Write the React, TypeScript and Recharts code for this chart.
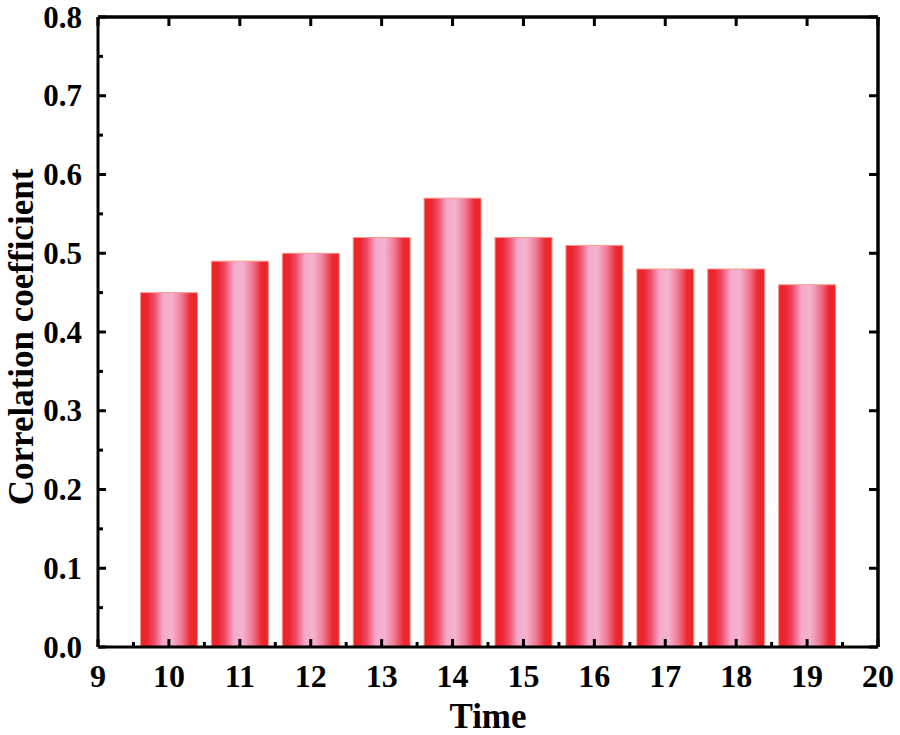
import React from "react";
import {
  Bar,
  BarChart,
  Label,
  ReferenceLine,
  XAxis,
  YAxis
} from "recharts";

const times: number[] = [10, 11, 12, 13, 14, 15, 16, 17, 18, 19];
const coefficients: number[] = [0.45, 0.49, 0.5, 0.52, 0.57, 0.52, 0.51, 0.48, 0.48, 0.46];

const xTicks: number[] = [9, 9.5, 10, 10.5, 11, 11.5, 12, 12.5, 13, 13.5, 14, 14.5, 15, 15.5, 16, 16.5, 17, 17.5, 18, 18.5, 19, 19.5, 20];
const xMajorTicks: number[] = [9, 10, 11, 12, 13, 14, 15, 16, 17, 18, 19, 20];
const yTicks: number[] = [0, 0.05, 0.1, 0.15, 0.2, 0.25, 0.3, 0.35, 0.4, 0.45, 0.5, 0.55, 0.6, 0.65, 0.7, 0.75, 0.8];
const yMajorTicks: number[] = [0, 0.1, 0.2, 0.3, 0.4, 0.5, 0.6, 0.7, 0.8];

const data = times.map((t, i) => ({ time: t, value: coefficients[i] }));

const FONT = "'Liberation Serif', 'Times New Roman', serif";

const isMajor = (v: number, step: number) => Math.abs(v / step - Math.round(v / step)) < 1e-6;

const BottomTick = (props: any) => {
  const { x, y, payload } = props;
  const major = isMajor(payload.value, 1);
  return (
    <g>
      <line x1={x} y1={y} x2={x} y2={y - (major ? 8 : 5)} stroke="#000" strokeWidth={3} />
      {major && (
        <text x={x} y={y + 40} textAnchor="middle" fontFamily={FONT} fontWeight="bold" fontSize={32} fill="#000">
          {payload.value}
        </text>
      )}
    </g>
  );
};

const LeftTick = (props: any) => {
  const { x, y, payload } = props;
  const major = isMajor(payload.value, 0.1);
  return (
    <g>
      <line x1={x} y1={y} x2={x + (major ? 8 : 5)} y2={y} stroke="#000" strokeWidth={3} />
      {major && (
        <text x={x - 16} y={y} dy="0.34em" textAnchor="end" fontFamily={FONT} fontWeight="bold" fontSize={31} fill="#000">
          {payload.value.toFixed(1)}
        </text>
      )}
    </g>
  );
};

const TopTick = (props: any) => {
  const { x, y } = props;
  return <line x1={x} y1={y} x2={x} y2={y + 9} stroke="#000" strokeWidth={3} />;
};

const RightTick = (props: any) => {
  const { x, y } = props;
  return <line x1={x} y1={y} x2={x - 9} y2={y} stroke="#000" strokeWidth={3} />;
};

const App: React.FC = () => {
  return (
    <div style={{ position: "absolute", left: 0, top: 0, width: 900, height: 735, background: "#fff" }}>
      <BarChart
        width={900}
        height={735}
        data={data}
        margin={{ top: 16, right: 21, left: 38, bottom: 28 }}
      >
        <defs>
          <linearGradient id="barGrad" x1="0" y1="0" x2="1" y2="0">
            <stop offset="0%" stopColor="#EE2326" />
            <stop offset="12%" stopColor="#EC2530" />
            <stop offset="24%" stopColor="#EE4A68" />
            <stop offset="40%" stopColor="#F4AACB" />
            <stop offset="55%" stopColor="#F5B3CF" />
            <stop offset="72%" stopColor="#F07A96" />
            <stop offset="88%" stopColor="#EC2832" />
            <stop offset="100%" stopColor="#EE2326" />
          </linearGradient>
        </defs>
        <XAxis
          dataKey="time"
          type="number"
          domain={[9, 20]}
          ticks={xTicks}
          interval={0}
          allowDataOverflow
          height={60}
          axisLine={{ stroke: "#000", strokeWidth: 3 }}
          tickLine={false}
          tickSize={0}
          tickMargin={0}
          tick={<BottomTick />}
        >
          <Label
            content={({ viewBox }: any) => (
              <text
                x={viewBox.x + viewBox.width / 2}
                y={728}
                textAnchor="middle"
                fontFamily={FONT}
                fontWeight="bold"
                fontSize={35}
                fill="#000"
              >
                Time
              </text>
            )}
          />
        </XAxis>
        <XAxis
          xAxisId="top"
          orientation="top"
          type="number"
          dataKey="time"
          domain={[9, 20]}
          ticks={xMajorTicks}
          interval={0}
          allowDataOverflow
          height={1}
          axisLine={{ stroke: "#000", strokeWidth: 3 }}
          tickLine={false}
          tickSize={0}
          tickMargin={0}
          tick={<TopTick />}
        />
        <YAxis
          type="number"
          domain={[0, 0.8]}
          ticks={yTicks}
          interval={0}
          allowDataOverflow
          width={60}
          axisLine={{ stroke: "#000", strokeWidth: 3 }}
          tickLine={false}
          tickSize={0}
          tickMargin={0}
          tick={<LeftTick />}
        >
          <Label
            content={({ viewBox }: any) => {
              const cx = 21;
              const cy = viewBox.y + viewBox.height / 2 + 5;
              return (
                <text
                  x={cx}
                  y={cy}
                  transform={`rotate(-90, ${cx}, ${cy})`}
                  dy="0.35em"
                  textAnchor="middle"
                  fontFamily={FONT}
                  fontWeight="bold"
                  fontSize={35}
                  fill="#000"
                >
                  Correlation coefficient
                </text>
              );
            }}
          />
        </YAxis>
        <YAxis
          yAxisId="right"
          orientation="right"
          type="number"
          domain={[0, 0.8]}
          ticks={yMajorTicks}
          interval={0}
          allowDataOverflow
          width={1}
          axisLine={{ stroke: "#000", strokeWidth: 3 }}
          tickLine={false}
          tickSize={0}
          tickMargin={0}
          tick={<RightTick />}
        />
        <ReferenceLine y={0.8} stroke="#000" strokeWidth={3} ifOverflow="visible" />
        <ReferenceLine x={20} stroke="#000" strokeWidth={3} ifOverflow="visible" />
        <Bar
          dataKey="value"
          fill="url(#barGrad)"
          stroke="#F59A8C"
          strokeWidth={1}
          barSize={57}
          isAnimationActive={false}
        />
      </BarChart>
    </div>
  );
};

export default App;
